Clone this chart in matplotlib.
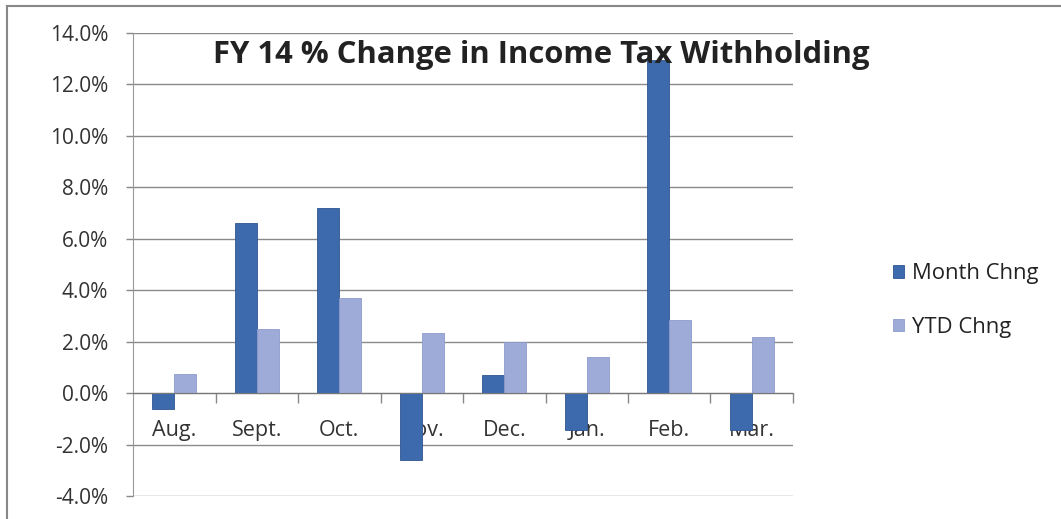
import numpy as np
import matplotlib.pyplot as plt
from matplotlib.lines import Line2D
from matplotlib.ticker import FuncFormatter, FixedLocator

months = ['Aug.', 'Sept.', 'Oct.', 'Nov.', 'Dec.', 'Jan.', 'Feb.', 'Mar.']
month_chng = [-0.6, 6.6, 7.2, -2.6, 0.7, -1.45, 12.95, -1.45]
ytd_chng = [0.75, 2.5, 3.7, 2.35, 2.0, 1.4, 2.85, 2.2]

plt.rcParams['font.family'] = ['Open Sans', 'DejaVu Sans']

fig = plt.figure(figsize=(10.61, 5.19), dpi=100)
ax = fig.add_axes([0.1254, 0.0443, 0.6220, 0.8921])

x = np.arange(len(months))
w = 0.265
ax.bar(x - w / 2, month_chng, w, color='#3d6aac', edgecolor='#2f5690',
       linewidth=0.6, label='Month Chng', zorder=2)
ax.bar(x + w / 2, ytd_chng, w, color='#9eaad8', edgecolor='#8d9acb',
       linewidth=0.6, label='YTD Chng', zorder=2)

ax.set_xlim(-0.5, len(months) - 0.5)
ax.set_ylim(-4, 14)
ax.set_yticks(np.arange(-4, 14.1, 2))
ax.yaxis.set_major_formatter(FuncFormatter(lambda v, p: f'{v:.1f}%'))
ax.tick_params(axis='y', length=5, width=1, color='#888888',
               labelsize=15, labelcolor='#333333', pad=13)

# category boundary ticks on the zero line, labels centred below it
ax.xaxis.set_major_locator(FixedLocator(np.arange(0.5, len(months) - 0.4, 1)))
ax.xaxis.set_major_formatter(FuncFormatter(lambda v, p: ''))
ax.xaxis.set_minor_locator(FixedLocator(x))
ax.set_xticklabels(months, minor=True)
ax.tick_params(axis='x', which='major', direction='out', length=7,
               width=1, color='#888888')
ax.tick_params(axis='x', which='minor', length=0, labelsize=15.5,
               labelcolor='#333333', pad=19)

ax.spines['bottom'].set_position(('data', 0))
ax.spines['bottom'].set_color('#777777')
ax.spines['left'].set_color('#999999')
ax.spines['top'].set_visible(False)
ax.spines['right'].set_visible(False)

ax.grid(axis='y', color='#8a8a8a', linewidth=1)
ax.set_axisbelow(True)

fig.text(0.51, 0.894, 'FY 14 % Change in Income Tax Withholding',
         ha='center', va='center', fontsize=22.3, fontweight='bold',
         color='#222222')

fig.legend(loc='center left', bbox_to_anchor=(0.842, 0.421), frameon=False,
           fontsize=15.8, handlelength=0.5, handleheight=0.5,
           handletextpad=0.35, labelspacing=1.5, borderpad=0,
           borderaxespad=0, labelcolor='#222222')

# chart frame (only top and left edges are visible in the crop)
fig.add_artist(Line2D([7 / 1061, 1], [1 - 6 / 519, 1 - 6 / 519],
                      transform=fig.transFigure, color='#888888', lw=1.5))
fig.add_artist(Line2D([7 / 1061, 7 / 1061], [0, 1 - 6 / 519],
                      transform=fig.transFigure, color='#888888', lw=1.5))

fig.savefig('out.png', dpi=100)
